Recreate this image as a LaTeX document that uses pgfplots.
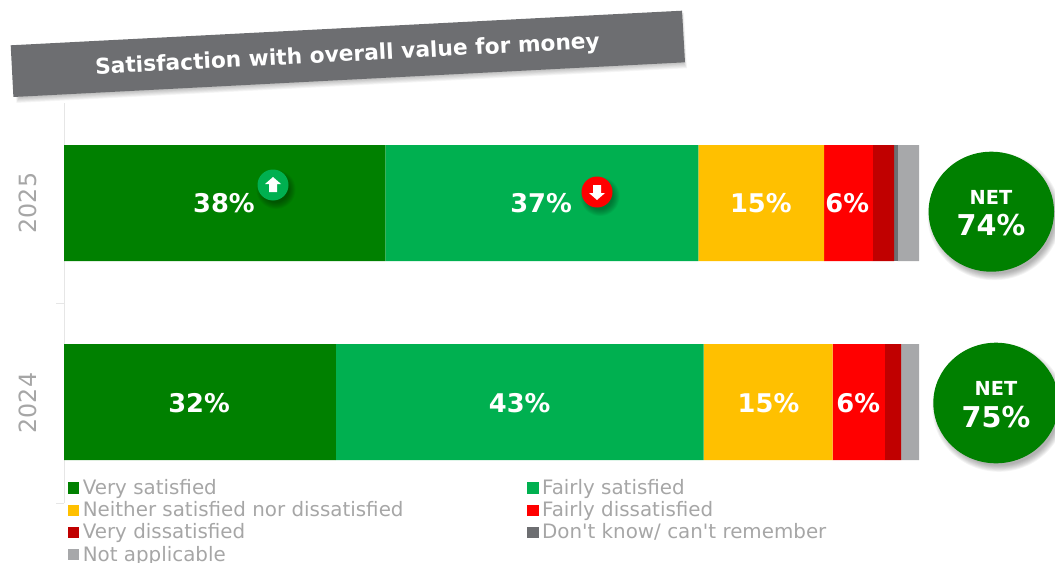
\documentclass[border=0pt]{standalone}
\usepackage{fontspec}
\setmainfont{DejaVu Sans}
\newfontfamily\plainfont{DejaVu Sans}
\usepackage{pgfplots}
\pgfplotsset{compat=1.18}
\definecolor{cVS}{HTML}{008000}
\definecolor{cFS}{HTML}{00B050}
\definecolor{cN}{HTML}{FFC000}
\definecolor{cFD}{HTML}{FF0000}
\definecolor{cVD}{HTML}{C00000}
\definecolor{cDK}{HTML}{6D6E71}
\definecolor{cNA}{HTML}{A7A8AA}
\definecolor{cTxt}{HTML}{A6A6A6}
\definecolor{cAx}{HTML}{E6E6E6}
\newcommand{\softellipse}[4]{% cx cy rx ry
  \foreach \k in {0,1,...,7}{
    \fill[black,opacity=0.045] ({#1+3},{#2+4.5}) ellipse[x radius={#3+4-\k*0.9},y radius={#4+4-\k*0.9}];
  }}
\newcommand{\leg}[1]{\makebox[336pt][l]{\hspace*{2.6pt}#1}}
\begin{document}
\begin{tikzpicture}[x=0.75pt,y=-0.75pt]
\path[use as bounding box] (0,0) rectangle (1055,563);
\begin{axis}[
  at={(48pt,-377.25pt)},anchor=south west,
  scale only axis,width=641.25pt,height=300pt,
  xbar stacked,bar width=87pt,
  xmin=0,xmax=100,ymin=-0.5,ymax=1.5,
  axis x line=none,axis y line=left,
  y axis line style={-,draw=cAx,line width=0.75pt},
  ytick={0,1},yticklabels={2024,2025},
  minor ytick={-0.5,0.5},
  major tick length=0pt,minor tick length=6pt,
  tick align=outside,
  minor tick style={draw=cAx,line width=0.75pt},
  yticklabel style={rotate=90,anchor=south,text=cTxt,font=\fontsize{17.8}{20}\selectfont,yshift=16.5pt},
  legend columns=2,
  legend cell align=left,
  legend style={at={(0,0.0675)},anchor=north west,xshift=3pt,yshift=-0.6pt,draw=none,fill=none,inner sep=0pt,outer sep=0pt,
    row sep=0pt,column sep=0pt,
    nodes={inner sep=0pt,outer sep=0pt,text height=13.2pt,text depth=3.5pt,text=cTxt,font=\fontsize{14.9}{17}\selectfont}},
  every axis plot/.append style={draw=none,
    legend image code/.code={\fill[##1] (0.3pt,-4.25pt) rectangle (8.8pt,4.25pt);}},
]
\addplot[fill=cVS] coordinates {(31.8,0.005) (37.6,1)};
\addlegendentry{\leg{Very satisfied}}
\addplot[fill=cFS] coordinates {(43.0,0.005) (36.6,1)};
\addlegendentry{\leg{Fairly satisfied}}
\addplot[fill=cN] coordinates {(15.1,0.005) (14.7,1)};
\addlegendentry{\leg{Neither satisfied nor dissatisfied}}
\addplot[fill=cFD] coordinates {(6.1,0.005) (5.7,1)};
\addlegendentry{\leg{Fairly dissatisfied}}
\addplot[fill=cVD] coordinates {(1.9,0.005) (2.5,1)};
\addlegendentry{\leg{Very dissatisfied}}
\addplot[fill=cDK] coordinates {(0,0.005) (0.4,1)};
\addlegendentry{\leg{{\plainfont Don't know/ can't remember}}}
\addplot[fill=cNA] coordinates {(2.1,0.005) (2.5,1)};
\addlegendentry{\leg{Not applicable}}
\end{axis}
% annotations that sit on the bars
\softellipse{273}{185}{15.5}{15.5}
\fill[cFS] (273,185) circle[radius=15.5];
\fill[white] (273,177)--(281,184)--(277,184)--(277,192)--(269,192)--(269,184)--(265,184)--cycle;
\softellipse{597}{192}{15.5}{15.5}
\fill[cFD] (597,192) circle[radius=15.5];
\fill[white] (597,200)--(605,193)--(601,193)--(601,185)--(593,185)--(593,193)--(589,193)--cycle;
% value labels
\begin{axis}[
  at={(48pt,-377.25pt)},anchor=south west,
  scale only axis,width=641.25pt,height=300pt,
  xmin=0,xmax=100,ymin=-0.5,ymax=1.5,hide axis,
]
\addplot[draw=none,mark=none,
  point meta=explicit symbolic,
  nodes near coords,
  nodes near coords align={center},
  nodes near coords style={text=white,inner sep=0pt,font=\fontsize{19.3}{22}\selectfont\bfseries},
] table[x=x,y=y,meta=lab,row sep=\\]{
x y lab\\
18.7 1 38\%\\
55.8 1 37\%\\
81.5 1 15\%\\
91.6 1 6\%\\
15.8 0 32\%\\
53.3 0 43\%\\
82.4 0 15\%\\
92.9 0 6\%\\
};
\end{axis}
% NET circles
\softellipse{991.3}{211.7}{62.7}{60}
\fill[cVS] (991.3,211.7) ellipse[x radius=62.7,y radius=60];
\node[text=white,font=\fontsize{14.5}{17}\selectfont\bfseries] at (991,197) {NET};
\node[text=white,font=\fontsize{21.5}{25}\selectfont\bfseries] at (991,225) {74\%};
\softellipse{996}{403}{62.7}{60.3}
\fill[cVS] (996,403) ellipse[x radius=62.7,y radius=60.3];
\node[text=white,font=\fontsize{14.5}{17}\selectfont\bfseries] at (996,388) {NET};
\node[text=white,font=\fontsize{21.5}{25}\selectfont\bfseries] at (996,417) {75\%};
% title banner
\foreach \k in {0,1,...,7}{
  \fill[black,opacity=0.035] ({10.7+3+\k*0.4},{45.3+1+\k*0.3}) -- ({682+2-\k*0.5},{10.7+2+\k*0.3}) -- ({685+2-\k*0.5},{62.3+6-\k*0.8}) -- ({13.4+3+\k*0.4},{97+6-\k*0.8}) -- cycle;
}
\fill[cDK] (10.7,45.3)--(682,10.7)--(685,62.3)--(13.4,97)--cycle;
\node[rotate=2.95,text=white,font=\fontsize{16.3}{20}\selectfont\bfseries] at (347.5,55.5) {Satisfaction with overall value for money};
\end{tikzpicture}
\end{document}
